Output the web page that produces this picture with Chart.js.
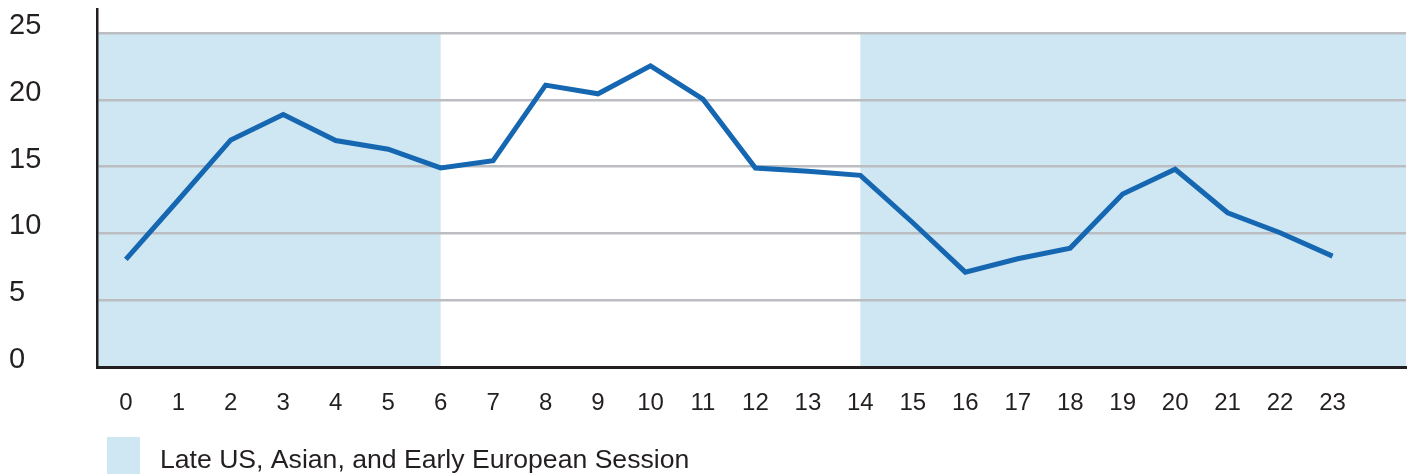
<!DOCTYPE html>
<html>
<head>
<meta charset="utf-8">
<script src="https://cdn.jsdelivr.net/npm/chart.js@4/dist/chart.umd.min.js"></script>
<style>
  html, body { margin: 0; padding: 0; background: #fff; }
  #wrap { width: 1410px; height: 474px; }
</style>
</head>
<body>
<div id="wrap"><canvas id="sessionChart"></canvas></div>
<script>
const hours = [0, 1, 2, 3, 4, 5, 6, 7, 8, 9, 10, 11, 12, 13, 14, 15, 16, 17, 18, 19, 20, 21, 22, 23];
const values = [8.05, 12.5, 17.0, 18.9, 16.95, 16.3, 14.9, 15.45, 21.1, 20.45, 22.55, 20.05,
                14.9, 14.65, 14.35, 10.8, 7.1, 8.1, 8.9, 12.95, 14.8, 11.55, 10.05, 8.3];
const yTicks = [0, 5, 10, 15, 20, 25];

// shaded session bands (hour ranges), clipped to the plot area
const shadeFrom = [-1, 14];
const shadeTo = [6, 25];
const shadeTop = 25;
const legendLabel = "Late US, Asian, and Early European Session";

const shadeColor = "#cfe6f3";
const textColor = "#231f20";

const sessionBands = {
  id: "sessionBands",
  beforeDraw(chart) {
    const { ctx, chartArea, scales: { x, y } } = chart;
    ctx.save();
    ctx.fillStyle = shadeColor;
    shadeFrom.forEach((from, i) => {
      const left = Math.max(x.getPixelForValue(from), chartArea.left);
      const right = Math.min(x.getPixelForValue(shadeTo[i]), chartArea.right);
      const top = y.getPixelForValue(shadeTop);
      const bottom = y.getPixelForValue(0);
      ctx.fillRect(left, top, right - left, bottom - top);
    });
    ctx.restore();
  },
  afterDraw(chart) {
    const { ctx } = chart;
    ctx.save();
    ctx.fillStyle = shadeColor;
    ctx.fillRect(107, 437, 33, 40);
    ctx.fillStyle = textColor;
    ctx.font = "26.6px 'Liberation Sans', Arial, sans-serif";
    ctx.textBaseline = "alphabetic";
    ctx.fillText(legendLabel, 160, 468);
    ctx.restore();
  }
};

new Chart(document.getElementById("sessionChart"), {
  type: "line",
  data: {
    datasets: [{
      data: hours.map((h, i) => ({ x: h, y: values[i] })),
      borderColor: "#1567b1",
      borderWidth: 5,
      borderJoinStyle: "miter",
      pointRadius: 0,
      tension: 0,
      fill: false
    }]
  },
  options: {
    responsive: true,
    maintainAspectRatio: false,
    animation: false,
    layout: { padding: { top: 9, left: 9, right: 4, bottom: 0 } },
    plugins: { legend: { display: false }, tooltip: { enabled: false } },
    scales: {
      x: {
        type: "linear",
        min: -0.55,
        max: 24.4,
        afterBuildTicks: axis => { axis.ticks = hours.map(v => ({ value: v })); },
        afterFit: axis => { axis.height = 107; axis.paddingLeft = 0; axis.paddingRight = 0; },
        grid: { display: false, drawTicks: false },
        border: { display: true, color: textColor, width: 3 },
        ticks: {
          color: textColor,
          padding: 22,
          maxRotation: 0,
          autoSkip: false,
          font: { family: "'Liberation Sans', Arial, sans-serif", size: 24 }
        }
      },
      y: {
        min: 0,
        max: 26.8,
        afterBuildTicks: axis => { axis.ticks = yTicks.map(v => ({ value: v })); },
        afterFit: axis => { axis.width = 88; axis.paddingTop = 0; axis.paddingBottom = 0; },
        grid: {
          color: ctx => ctx.tick && ctx.tick.value === 0 ? "rgba(0,0,0,0)" : "#bcbdc0",
          lineWidth: 2.5,
          drawTicks: false
        },
        border: { display: true, color: textColor, width: 2.5 },
        ticks: {
          color: textColor,
          crossAlign: "far",
          labelOffset: -7,
          font: { family: "'Liberation Sans', Arial, sans-serif", size: 29 }
        }
      }
    }
  },
  plugins: [sessionBands]
});
</script>
</body>
</html>
